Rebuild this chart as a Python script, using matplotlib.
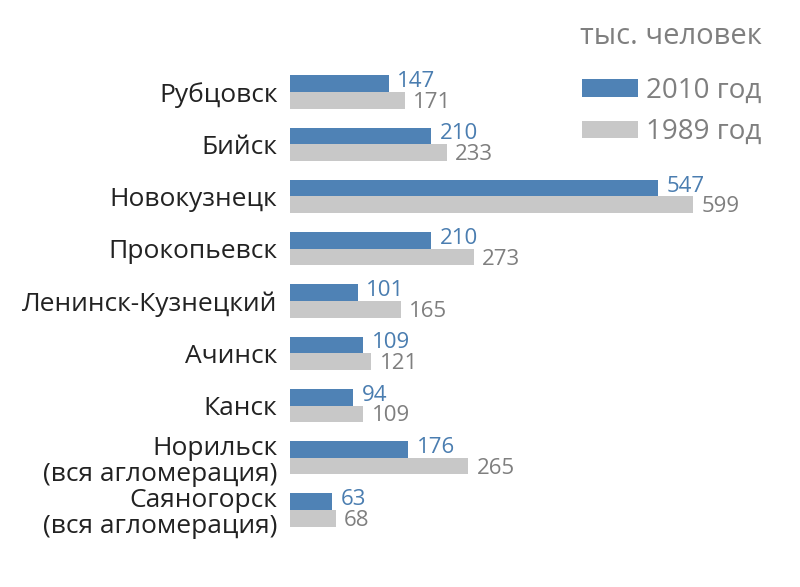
import matplotlib
matplotlib.use("Agg")
import matplotlib.pyplot as plt
import numpy as np

plt.rcParams['font.family'] = ['Open Sans', 'DejaVu Sans']

cities = ["Рубцовск", "Бийск", "Новокузнецк", "Прокопьевск", "Ленинск-Кузнецкий",
          "Ачинск", "Канск", "Норильск\n(вся агломерация)", "Саяногорск\n(вся агломерация)"]
pop_2010 = [147, 210, 547, 210, 101, 109, 94, 176, 63]
pop_1989 = [171, 233, 599, 273, 165, 121, 109, 265, 68]
series_labels = ["2010 год", "1989 год"]
unit_label = "тыс. человек"

BLUE = "#4f82b5"
GRAY = "#c8c8c8"
BLUE_TXT = "#4a7db0"
GRAY_TXT = "#7f7f7f"

W, H = 800, 587
fig = plt.figure(figsize=(8, 5.87), dpi=100)
ax = fig.add_axes([290 / W, 1 - 540 / H, 490 / W, 500 / H])

y = np.arange(len(cities))
bh = 0.32
b1 = ax.barh(y - bh / 2, pop_2010, height=bh, color=BLUE, label=series_labels[0])
b2 = ax.barh(y + bh / 2, pop_1989, height=bh, color=GRAY, label=series_labels[1])

ax.set_xlim(0, 728)
ax.set_ylim(8.574, -0.995)

for yi, v in zip(y, pop_2010):
    ax.annotate(str(v), (v, yi - bh / 2), xytext=(6, 1.5), textcoords="offset points",
                ha="left", va="center", fontsize=16, color=BLUE_TXT)
for yi, v in zip(y, pop_1989):
    ax.annotate(str(v), (v, yi + bh / 2), xytext=(6, -1.5), textcoords="offset points",
                ha="left", va="center", fontsize=16, color=GRAY_TXT)

ax.set_yticks(y)
ax.set_yticklabels(cities, fontsize=19, color="#222222", ha="right", multialignment="right",
                   linespacing=1.05)
ax.tick_params(axis="y", length=0, pad=9)
ax.set_xticks([])
for s in ax.spines.values():
    s.set_visible(False)

fig.text(762 / W, 1 - 37 / H, unit_label, ha="right", va="center", fontsize=21, color=GRAY_TXT)
leg = ax.legend(handles=[b1, b2], loc="upper left", bbox_to_anchor=(582 / W, 1 - 77 / H),
                bbox_transform=fig.transFigure, frameon=False, fontsize=20,
                labelcolor=GRAY_TXT, handlelength=2.0, handleheight=0.6,
                handletextpad=0.3, labelspacing=0.48, borderpad=0, borderaxespad=0)

fig.savefig("out.png", dpi=100, facecolor="white")
